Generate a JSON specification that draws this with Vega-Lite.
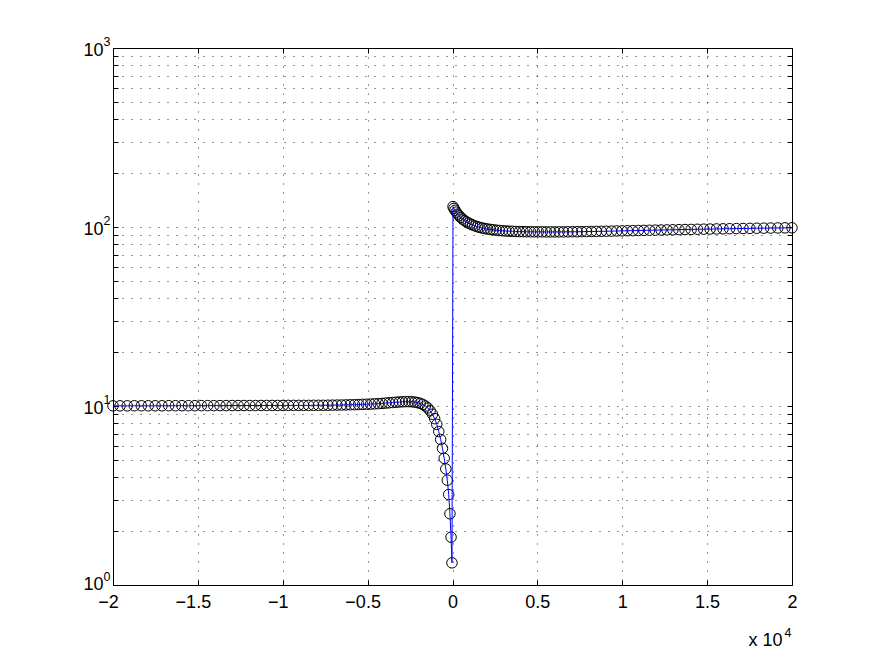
{
  "$schema": "https://vega.github.io/schema/vega-lite/v6.json",
  "width": 679,
  "height": 537,
  "autosize": {"type": "none"},
  "padding": {"left": 113, "top": 48, "right": 80, "bottom": 71},
  "background": "white",
  "config": {
    "view": {"stroke": "#000", "strokeWidth": 1},
    "axis": {
      "labelFont": "Liberation Sans",
      "titleFont": "Liberation Sans",
      "labelFontSize": 18,
      "labelColor": "#000",
      "tickColor": "#000",
      "domainColor": "#000",
      "gridColor": "#000",
      "gridDash": [1, 8],
      "gridWidth": 1,
      "gridOpacity": 0.8,
      "titleColor": "#000",
      "titleFontWeight": "normal",
      "labelFlush": false,
      "labelOverlap": false
    }
  },
  "data": {
    "values": [
      {"x": -20000, "y": 10.02}, {"x": -19586, "y": 10.02}, {"x": -19164, "y": 10.02}, {"x": -18746, "y": 10.03},
      {"x": -18332, "y": 10.03}, {"x": -17922, "y": 10.03}, {"x": -17517, "y": 10.03}, {"x": -17116, "y": 10.03},
      {"x": -16719, "y": 10.04}, {"x": -16326, "y": 10.04}, {"x": -15938, "y": 10.04}, {"x": -15554, "y": 10.04},
      {"x": -15174, "y": 10.04}, {"x": -14798, "y": 10.05}, {"x": -14427, "y": 10.05}, {"x": -14060, "y": 10.05},
      {"x": -13697, "y": 10.05}, {"x": -13338, "y": 10.05}, {"x": -12983, "y": 10.06}, {"x": -12633, "y": 10.06},
      {"x": -12287, "y": 10.06}, {"x": -11945, "y": 10.06}, {"x": -11608, "y": 10.06}, {"x": -11275, "y": 10.07},
      {"x": -10946, "y": 10.07}, {"x": -10621, "y": 10.07}, {"x": -10301, "y": 10.07}, {"x": -9985, "y": 10.07},
      {"x": -9674, "y": 10.08}, {"x": -9367, "y": 10.08}, {"x": -9064, "y": 10.08}, {"x": -8766, "y": 10.08},
      {"x": -8472, "y": 10.08}, {"x": -8182, "y": 10.09}, {"x": -7897, "y": 10.09}, {"x": -7616, "y": 10.09},
      {"x": -7340, "y": 10.1}, {"x": -7068, "y": 10.11}, {"x": -6800, "y": 10.12}, {"x": -6537, "y": 10.13},
      {"x": -6278, "y": 10.14}, {"x": -6024, "y": 10.16}, {"x": -5774, "y": 10.17}, {"x": -5529, "y": 10.19},
      {"x": -5288, "y": 10.21}, {"x": -5052, "y": 10.23}, {"x": -4820, "y": 10.25}, {"x": -4593, "y": 10.28},
      {"x": -4370, "y": 10.31}, {"x": -4152, "y": 10.34}, {"x": -3939, "y": 10.38}, {"x": -3730, "y": 10.42},
      {"x": -3526, "y": 10.46}, {"x": -3327, "y": 10.5}, {"x": -3133, "y": 10.53}, {"x": -2943, "y": 10.56},
      {"x": -2758, "y": 10.58}, {"x": -2578, "y": 10.58}, {"x": -2403, "y": 10.56}, {"x": -2233, "y": 10.52},
      {"x": -2067, "y": 10.45}, {"x": -1907, "y": 10.35}, {"x": -1751, "y": 10.2}, {"x": -1601, "y": 10.0},
      {"x": -1456, "y": 9.75}, {"x": -1316, "y": 9.4}, {"x": -1181, "y": 9.0}, {"x": -1051, "y": 8.5},
      {"x": -927, "y": 7.9}, {"x": -809, "y": 7.2}, {"x": -696, "y": 6.5}, {"x": -589, "y": 5.8},
      {"x": -488, "y": 5.1}, {"x": -393, "y": 4.45}, {"x": -305, "y": 3.85}, {"x": -224, "y": 3.2},
      {"x": -150, "y": 2.5}, {"x": -85, "y": 1.85}, {"x": -30, "y": 1.33},
      {"x": 30, "y": 130}, {"x": 85, "y": 127}, {"x": 150, "y": 124}, {"x": 224, "y": 121},
      {"x": 305, "y": 118}, {"x": 393, "y": 115.5}, {"x": 488, "y": 113}, {"x": 589, "y": 110.8},
      {"x": 696, "y": 108.8}, {"x": 809, "y": 107}, {"x": 927, "y": 105.4}, {"x": 1051, "y": 104},
      {"x": 1181, "y": 102.7}, {"x": 1316, "y": 101.5}, {"x": 1456, "y": 100.4}, {"x": 1601, "y": 99.5},
      {"x": 1751, "y": 98.7}, {"x": 1907, "y": 98}, {"x": 2067, "y": 97.4}, {"x": 2233, "y": 96.9},
      {"x": 2403, "y": 96.4}, {"x": 2578, "y": 96}, {"x": 2758, "y": 95.6}, {"x": 2943, "y": 95.3},
      {"x": 3133, "y": 95}, {"x": 3327, "y": 94.8}, {"x": 3526, "y": 94.6}, {"x": 3730, "y": 94.4},
      {"x": 3939, "y": 94.3}, {"x": 4152, "y": 94.2}, {"x": 4370, "y": 94.1}, {"x": 4593, "y": 94.05},
      {"x": 4820, "y": 94}, {"x": 5052, "y": 94}, {"x": 5288, "y": 93.95}, {"x": 5529, "y": 93.9},
      {"x": 5774, "y": 93.9}, {"x": 6024, "y": 93.9}, {"x": 6278, "y": 93.9}, {"x": 6537, "y": 93.95},
      {"x": 6800, "y": 94}, {"x": 7068, "y": 94.05}, {"x": 7340, "y": 94.1}, {"x": 7616, "y": 94.2},
      {"x": 7897, "y": 94.3}, {"x": 8182, "y": 94.4}, {"x": 8472, "y": 94.5}, {"x": 8766, "y": 94.6},
      {"x": 9064, "y": 94.7}, {"x": 9367, "y": 94.85}, {"x": 9674, "y": 95}, {"x": 9985, "y": 95.15},
      {"x": 10301, "y": 95.3}, {"x": 10621, "y": 95.45}, {"x": 10946, "y": 95.6}, {"x": 11275, "y": 95.75},
      {"x": 11608, "y": 95.9}, {"x": 11945, "y": 96.05}, {"x": 12287, "y": 96.2}, {"x": 12633, "y": 96.35},
      {"x": 12983, "y": 96.5}, {"x": 13338, "y": 96.65}, {"x": 13697, "y": 96.8}, {"x": 14060, "y": 96.95},
      {"x": 14427, "y": 97.1}, {"x": 14798, "y": 97.25}, {"x": 15174, "y": 97.4}, {"x": 15554, "y": 97.55},
      {"x": 15938, "y": 97.7}, {"x": 16326, "y": 97.85}, {"x": 16719, "y": 98}, {"x": 17116, "y": 98.1},
      {"x": 17517, "y": 98.25}, {"x": 17922, "y": 98.4}, {"x": 18332, "y": 98.5}, {"x": 18746, "y": 98.65},
      {"x": 19164, "y": 98.8}, {"x": 19586, "y": 98.9}, {"x": 20000, "y": 99}
    ]
  },
  "layer": [
    {
      "mark": {"type": "point", "shape": "circle", "size": 110, "filled": false, "stroke": "#000", "strokeWidth": 1, "opacity": 1},
      "encoding": {
        "x": {
          "field": "x", "type": "quantitative",
          "scale": {"domain": [-20000, 20000], "nice": false, "zero": false},
          "axis": {
            "orient": "bottom",
            "values": [-20000, -15000, -10000, -5000, 0, 5000, 10000, 15000, 20000],
            "labelExpr": "format(datum.value / 10000, '~g')",
            "labelOffset": {"condition": {"test": "datum.value < 0", "value": -5}, "value": 0},
            "tickSize": -5,
            "labelPadding": 13,
            "labelBaseline": "top",
            "domain": false,
            "grid": true,
            "title": "x 10",
            "titleFontSize": 18,
            "titleAnchor": "end",
            "titleAlign": "right",
            "titleBaseline": "alphabetic",
            "titleX": 669,
            "titleY": 60
          }
        },
        "y": {
          "field": "y", "type": "quantitative",
          "scale": {"type": "log", "domain": [1, 1000], "nice": false},
          "axis": {
            "orient": "left",
            "values": [1, 2, 3, 4, 5, 6, 7, 8, 9, 10, 20, 30, 40, 50, 60, 70, 80, 90, 100, 200, 300, 400, 500, 600, 700, 800, 900, 1000],
            "labelExpr": "datum.value == 1 || datum.value == 10 || datum.value == 100 || datum.value == 1000 ? '10' : ''",
            "tickSize": -5,
            "labelPadding": 15,
            "labelBaseline": "middle",
            "labelOffset": {"condition": {"test": "datum.value == 1", "value": -1}, "value": 2},
            "domain": false,
            "grid": true,
            "title": null
          }
        }
      }
    },
    {
      "mark": {"type": "line", "color": "#0000ff", "strokeWidth": 1},
      "encoding": {
        "x": {
          "field": "x", "type": "quantitative",
          "axis": {
            "orient": "top",
            "values": [-20000, -15000, -10000, -5000, 0, 5000, 10000, 15000, 20000],
            "labels": false, "grid": false, "domain": false, "tickSize": -5, "title": null
          }
        },
        "y": {
          "field": "y", "type": "quantitative",
          "axis": {
            "orient": "right",
            "values": [1, 2, 3, 4, 5, 6, 7, 8, 9, 10, 20, 30, 40, 50, 60, 70, 80, 90, 100, 200, 300, 400, 500, 600, 700, 800, 900, 1000],
            "tickSize": -5,
            "labels": false, "grid": false, "domain": false, "title": null
          }
        }
      }
    },
    {
      "mark": {"type": "point", "opacity": 0},
      "encoding": {
        "x": {
          "field": "x", "type": "quantitative",
          "axis": {
            "orient": "bottom",
            "labels": false, "ticks": false, "tickSize": 0, "grid": false, "domain": false,
            "title": "4",
            "titleFontSize": 12.5,
            "titleAnchor": "start",
            "titleAlign": "left",
            "titleBaseline": "alphabetic",
            "titleX": 671,
            "titleY": 51
          }
        },
        "y": {
          "field": "y", "type": "quantitative",
          "axis": {
            "orient": "left",
            "values": [1, 10, 100, 1000],
            "labelExpr": "datum.value == 1 ? '0' : datum.value == 10 ? '1' : datum.value == 100 ? '2' : '3'",
            "labelFontSize": 12.5,
            "labelPadding": 3,
            "labelBaseline": "middle",
            "labelOffset": {"condition": {"test": "datum.value == 1", "value": -9}, "value": -7},
            "ticks": false, "tickSize": 0, "grid": false, "domain": false, "title": null
          }
        }
      }
    }
  ]
}
